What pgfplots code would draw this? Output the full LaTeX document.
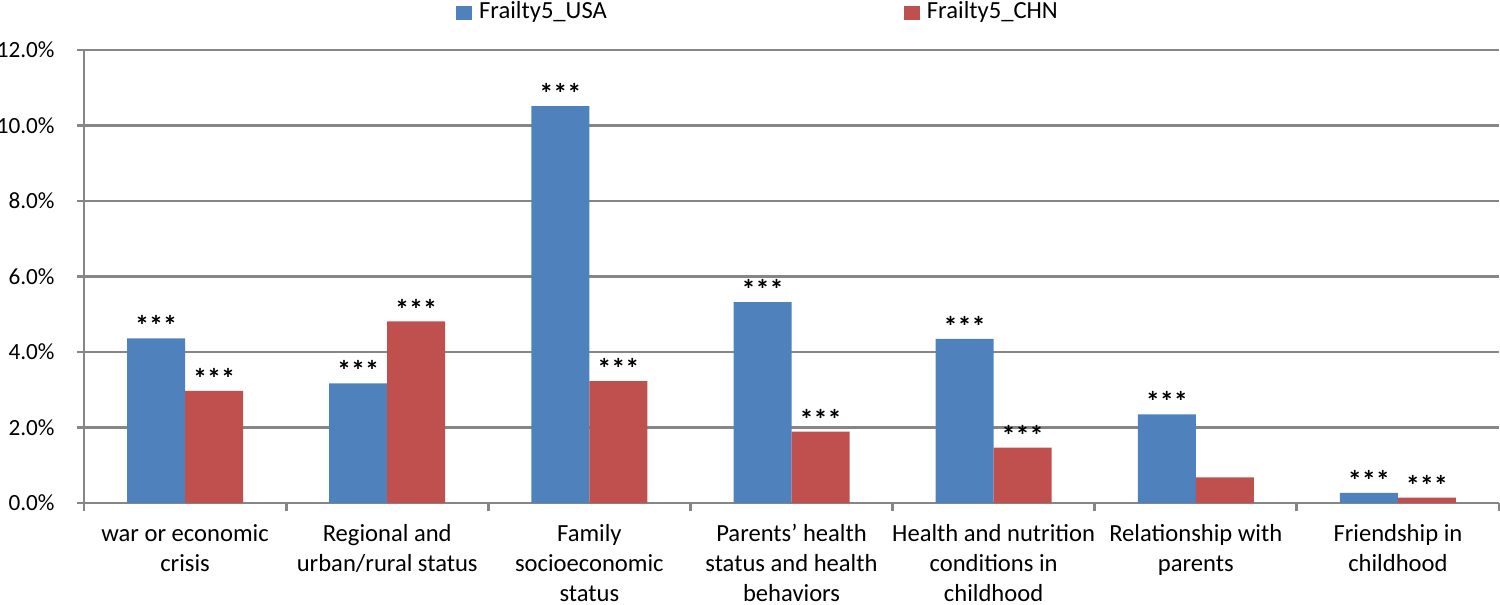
\documentclass[border=0pt]{standalone}
\usepackage{pgfplots}
\pgfplotsset{compat=1.18}
\usepackage{fontspec}
\setmainfont{Carlito}
\definecolor{usablue}{HTML}{4F81BD}
\definecolor{chnred}{HTML}{C0504D}
\definecolor{gridgray}{HTML}{868686}

\begin{document}
\begin{tikzpicture}
\begin{axis}[
    name=ax,
    scale only axis,
    width=14.15cm,
    height=4.53cm,
    ybar=0pt,
    bar width=0.58cm,
    ymin=0, ymax=12,
    ytick={0,2,...,12},
    yticklabel={\pgfmathprintnumber[fixed,fixed zerofill,precision=1]{\tick}\%},
    /pgf/number format/assume math mode=true,
    xmin=-0.5, xmax=6.5,
    xtick={0,...,6},
    xticklabels={
        {war or economic\\crisis},
        {Regional and\\urban/rural status},
        {Family\\socioeconomic\\status},
        {Parents’ health\\status and health\\behaviors},
        {Health and nutrition\\conditions in\\childhood},
        {Relationship with\\parents},
        {Friendship in\\childhood}},
    minor xtick={-0.5,0.5,...,6.5},
    major x tick style={draw=none},
    minor x tick style={gridgray, line width=0.8pt},
    minor tick length=0.08cm,
    major tick length=0.07cm,
    tick align=outside,
    axis x line*=bottom,
    axis y line*=left,
    axis line style={gridgray, line width=0.8pt, -},
    y tick style={gridgray, line width=0.8pt},
    ymajorgrids,
    major grid style={gridgray, line width=0.8pt},
    x tick label style={align=center, font=\fontsize{7}{8.5}\selectfont, yshift=-0.02cm},
    y tick label style={font=\fontsize{6.6}{8}\selectfont, xshift=-0.1cm},
    point meta=explicit symbolic,
    nodes near coords,
    every node near coord/.append style={font=\fontsize{8}{9}\selectfont\bfseries, anchor=south, yshift=-0.1cm, black},
    legend style={at={(0.5,1)}, anchor=center, xshift=-0.31cm, yshift=0.37cm, draw=none,
        font=\fontsize{7}{8.5}\selectfont,
        legend columns=2,
        /tikz/every even column/.append style={column sep=2.9cm}},
    legend image code/.code={\fill[#1] (0cm,-0.07cm) rectangle (0.16cm,0.07cm);},
]
\addplot[fill=usablue, draw=none] coordinates {
    (0,4.36) [***]
    (1,3.17) [***]
    (2,10.51) [***]
    (3,5.32) [***]
    (4,4.35) [***]
    (5,2.35) [***]
    (6,0.27) [***]
};
\addplot[fill=chnred, draw=none] coordinates {
    (0,2.97) [***]
    (1,4.81) [***]
    (2,3.23) [***]
    (3,1.89) [***]
    (4,1.47) [***]
    (5,0.68) [\mbox{}]
    (6,0.14) [***]
};
\legend{Frailty5\_USA, Frailty5\_CHN}
\end{axis}
\pgfresetboundingbox
\useasboundingbox ([xshift=-0.84cm,yshift=-1.01cm]ax.south west) rectangle ([xshift=0.01cm,yshift=0.50cm]ax.north east);
\end{tikzpicture}
\end{document}
